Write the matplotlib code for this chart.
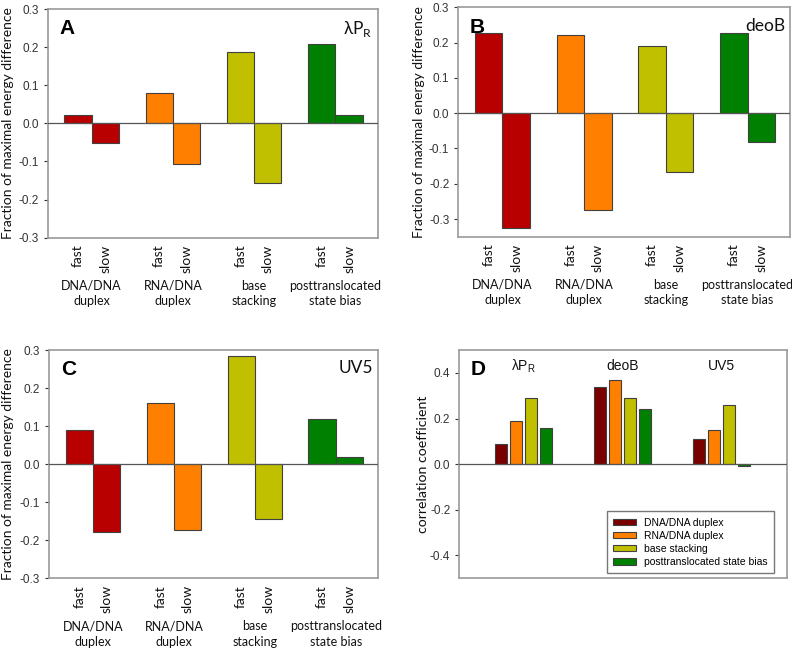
import matplotlib
matplotlib.use("Agg")
import matplotlib.pyplot as plt
from matplotlib.transforms import blended_transform_factory
import numpy as np

groups = ["DNA/DNA\nduplex", "RNA/DNA\nduplex", "base\nstacking", "posttranslocated\nstate bias"]
speeds = ["fast", "slow"]

# Panel A (lambda PR): fast, slow per group
a_fast = [0.021, 0.079, 0.186, 0.208]
a_slow = [-0.051, -0.106, -0.157, 0.023]
# Panel B (deoB)
b_fast = [0.228, 0.222, 0.191, 0.227]
b_slow = [-0.326, -0.273, -0.168, -0.082]
# Panel C (UV5)
c_fast = [0.091, 0.161, 0.283, 0.119]
c_slow = [-0.179, -0.173, -0.144, 0.018]

# Panel D correlation coefficients
promoters = ["λP$_\\mathregular{R}$", "deoB", "UV5"]
d_dna = [0.09, 0.34, 0.11]
d_rna = [0.19, 0.37, 0.15]
d_stack = [0.29, 0.29, 0.26]
d_post = [0.16, 0.24, -0.01]
d_names = ["DNA/DNA duplex", "RNA/DNA duplex", "base stacking", "posttranslocated state bias"]

col_abc = ["#B80000", "#FF8000", "#C0C000", "#008000"]
col_d = ["#7A0000", "#FF8000", "#C0C000", "#008000"]

SPINE = "#9a9a9a"
EDGE = "#404040"
TICKC = "#333333"
calibri = ["Lato", "DejaVu Sans"]
arial = ["Liberation Sans", "DejaVu Sans"]

fig = plt.figure(figsize=(7.92, 6.49), dpi=100)

def style_axes(ax):
    for s in ax.spines.values():
        s.set_color(SPINE)
        s.set_linewidth(1.2)
    ax.tick_params(axis="y", colors=TICKC, labelsize=8.5, length=3, width=0.8, direction="out")
    for lab in ax.get_yticklabels():
        lab.set_fontfamily(arial)
    ax.axhline(0, color="#555555", lw=0.9, zorder=3)

def panel(rect, fast, slow, ylim, letter, title, labx):
    ax = fig.add_axes(rect)
    x = np.arange(1, len(groups) + 1)
    w = 0.336
    for i in range(len(groups)):
        ax.bar(x[i] - w / 2, fast[i], width=w, color=col_abc[i], edgecolor=EDGE, linewidth=0.8, zorder=2)
        ax.bar(x[i] + w / 2, slow[i], width=w, color=col_abc[i], edgecolor=EDGE, linewidth=0.8, zorder=2)
    ax.set_xlim(0.46, 4.52)
    ax.set_ylim(*ylim)
    yt = np.round(np.arange(-0.3, 0.31, 0.1), 1)
    ax.set_yticks(yt)
    ax.set_yticklabels([f"{v:.1f}" for v in yt])
    pos = []
    labs = []
    for i in range(len(groups)):
        pos += [x[i] - w / 2, x[i] + w / 2]
        labs += speeds
    ax.set_xticks(pos)
    ax.set_xticklabels(labs, rotation=90, fontsize=10, fontfamily=calibri, color="#111111")
    ax.tick_params(axis="x", length=0, pad=5)
    style_axes(ax)
    trans = blended_transform_factory(ax.transData, ax.transAxes)
    for i, g in enumerate(groups):
        ax.text(x[i], -0.183, g, transform=trans, ha="center", va="top", fontsize=9,
                fontfamily=calibri, linespacing=1.35, color="#111111")
    ax.set_ylabel("Fraction of maximal energy difference", fontsize=10, fontfamily=calibri,
                  color="#111111")
    ax.yaxis.set_label_coords(labx, 0.5)
    ax.text(0.035, 0.955, letter, transform=ax.transAxes, ha="left", va="top", fontsize=15,
            fontweight="bold", fontfamily=arial)
    ax.text(0.985, 0.955, title, transform=ax.transAxes, ha="right", va="top", fontsize=12.5,
            fontfamily=calibri, color="#111111")
    return ax

panel([0.0602, 0.6337, 0.4167, 0.3524], a_fast, a_slow, (-0.3, 0.3), "A", "λP$_\\mathregular{R}$", -0.103)
panel([0.5787, 0.6353, 0.4188, 0.3534], b_fast, b_slow, (-0.35, 0.3), "B", "deoB", -0.100)
panel([0.0622, 0.1089, 0.4147, 0.3518], c_fast, c_slow, (-0.3, 0.3), "C", "UV5", -0.108)

# Panel D
ax = fig.add_axes([0.5799, 0.1089, 0.4134, 0.3518])
xg = np.arange(1, len(promoters) + 1)
pitch = 0.152
bw = 0.121
series = [d_dna, d_rna, d_stack, d_post]
for k, vals in enumerate(series):
    ax.bar(xg + (k - 1.5) * pitch, vals, width=bw, color=col_d[k], edgecolor=EDGE, linewidth=0.8,
           zorder=2, label=d_names[k])
ax.set_xlim(0.35, 3.66)
ax.set_ylim(-0.5, 0.5)
yt = np.round(np.arange(-0.4, 0.41, 0.2), 1)
ax.set_yticks(yt)
ax.set_yticklabels([f"{v:.1f}" for v in yt])
ax.set_xticks([])
style_axes(ax)
for i, p in enumerate(promoters):
    ax.text(xg[i], 0.43, p, ha="center", va="center", fontsize=10, fontfamily=arial, color="#111111")
ax.text(0.035, 0.955, "D", transform=ax.transAxes, ha="left", va="top", fontsize=15,
        fontweight="bold", fontfamily=arial)
ax.set_ylabel("correlation coefficient", fontsize=10.2, fontfamily=calibri, color="#111111")
ax.yaxis.set_label_coords(-0.092, 0.5)
leg = ax.legend(loc="lower right", bbox_to_anchor=(0.961, 0.022),
                prop={"family": arial, "size": 7.5}, frameon=True, fancybox=False,
                handlelength=2.2, handleheight=0.55, handletextpad=0.8, labelspacing=0.3,
                borderpad=0.6, borderaxespad=0)
leg.get_frame().set_edgecolor("#555555")
leg.get_frame().set_linewidth(1.0)

fig.savefig("out.png", dpi=100)
